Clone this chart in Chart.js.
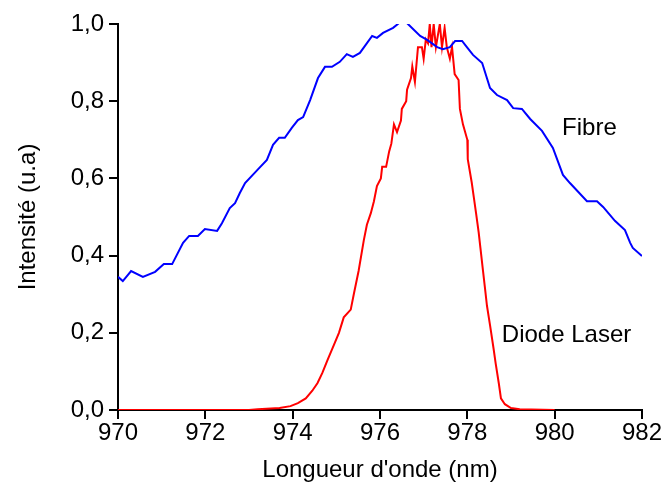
<!DOCTYPE html>
<html>
<head>
<meta charset="utf-8">
<script src="https://cdn.jsdelivr.net/npm/chart.js@4/dist/chart.umd.min.js"></script>
<style>
  html, body { margin: 0; padding: 0; background: #fff; }
  #wrap { width: 662px; height: 489px; }
</style>
</head>
<body>
<div id="wrap"><canvas id="spectre"></canvas></div>
<script>
// Fibre spectrum (blue)
const fibreX = [970.00, 970.11, 970.30, 970.57, 970.85, 971.05, 971.24, 971.49, 971.63, 971.83,
  971.99, 972.27, 972.38, 972.56, 972.68, 972.79, 972.91, 973.21, 973.41, 973.55,
  973.69, 973.82, 973.98, 974.12, 974.24, 974.40, 974.58, 974.74, 974.90, 975.08,
  975.24, 975.38, 975.54, 975.82, 975.93, 976.07, 976.30, 976.41, 976.53, 976.64,
  976.92, 977.08, 977.31, 977.44, 977.60, 977.72, 977.88, 977.99, 978.13, 978.34,
  978.52, 978.68, 978.91, 979.05, 979.25, 979.44, 979.71, 979.96, 980.19, 980.35,
  980.74, 980.97, 981.11, 981.38, 981.61, 981.73, 981.79, 982.00];
const fibreY = [0.345, 0.334, 0.360, 0.345, 0.358, 0.378, 0.378, 0.433, 0.451, 0.451,
  0.469, 0.464, 0.484, 0.523, 0.536, 0.562, 0.588, 0.624, 0.648, 0.687,
  0.705, 0.705, 0.731, 0.751, 0.759, 0.803, 0.860, 0.889, 0.889, 0.902,
  0.922, 0.915, 0.925, 0.969, 0.964, 0.977, 0.990, 1.000, 1.012, 1.000,
  0.969, 0.959, 0.940, 0.935, 0.940, 0.956, 0.956, 0.940, 0.920, 0.899,
  0.834, 0.816, 0.803, 0.782, 0.780, 0.754, 0.723, 0.679, 0.609, 0.588,
  0.541, 0.541, 0.526, 0.490, 0.466, 0.433, 0.420, 0.399];

// Diode laser spectrum (red)
const laserX = [970.00, 973.00, 973.20, 973.70, 973.95, 974.12, 974.30, 974.45, 974.57, 974.68,
  974.80, 974.95, 975.06, 975.17, 975.33, 975.40, 975.51, 975.63, 975.70, 975.79,
  975.86, 975.93, 976.02, 976.05, 976.14, 976.21, 976.26, 976.32, 976.39, 976.48,
  976.50, 976.60, 976.62, 976.71, 976.74, 976.80, 976.87, 976.96, 977.00, 977.05,
  977.10, 977.14, 977.18, 977.23, 977.28, 977.37, 977.42, 977.48, 977.53, 977.60,
  977.65, 977.71, 977.80, 977.83, 977.90, 978.00, 978.01, 978.10, 978.15, 978.20,
  978.26, 978.30, 978.36, 978.40, 978.45, 978.52, 978.60, 978.65, 978.72, 978.77,
  978.86, 979.00, 979.20, 980.00];
const laserY = [0.000, 0.000, 0.002, 0.005, 0.010, 0.018, 0.030, 0.050, 0.070, 0.096,
  0.130, 0.170, 0.200, 0.240, 0.260, 0.300, 0.360, 0.440, 0.480, 0.510,
  0.540, 0.580, 0.600, 0.630, 0.630, 0.670, 0.690, 0.740, 0.720, 0.750,
  0.780, 0.800, 0.830, 0.860, 0.890, 0.850, 0.940, 0.940, 0.910, 0.960,
  0.950, 1.000, 0.940, 1.000, 0.940, 1.000, 0.940, 0.990, 0.940, 0.910,
  0.940, 0.870, 0.855, 0.780, 0.740, 0.700, 0.650, 0.590, 0.550, 0.510,
  0.460, 0.420, 0.360, 0.320, 0.270, 0.220, 0.160, 0.120, 0.070, 0.030,
  0.015, 0.005, 0.002, 0.000];

const yTicks = [0, 0.2, 0.4, 0.6, 0.8, 1.0];
const xTicks = [970, 972, 974, 976, 978, 980, 982];

// text labels next to the curves
const notes = [
  { text: 'Fibre', x: 980.17, y: 0.73 },
  { text: 'Diode Laser', x: 978.79, y: 0.194 }
];

const FONT = 'Arial, "Liberation Sans", sans-serif';
const FS = 24;

const notesPlugin = {
  id: 'notes',
  afterDatasetsDraw(chart) {
    const ctx = chart.ctx;
    const xs = chart.scales.x, ys = chart.scales.y;
    ctx.save();
    ctx.fillStyle = '#000';
    ctx.font = FS + 'px ' + FONT;
    ctx.textBaseline = 'middle';
    ctx.textAlign = 'left';
    notes.forEach(n => ctx.fillText(n.text, xs.getPixelForValue(n.x), ys.getPixelForValue(n.y)));
    ctx.restore();
  }
};

const pts = (xa, ya) => xa.map((v, i) => ({ x: v, y: ya[i] }));

new Chart(document.getElementById('spectre'), {
  type: 'line',
  data: {
    datasets: [
      { label: 'Fibre', data: pts(fibreX, fibreY), borderColor: '#0000ff', borderWidth: 2,
        pointRadius: 0, tension: 0, fill: false },
      { label: 'Diode Laser', data: pts(laserX, laserY), borderColor: '#ff0000', borderWidth: 2,
        pointRadius: 0, tension: 0, fill: false }
    ]
  },
  options: {
    responsive: true,
    maintainAspectRatio: false,
    animation: false,
    layout: { padding: { top: 24, left: 0, right: 0, bottom: 4 } },
    plugins: { legend: { display: false }, tooltip: { enabled: false } },
    scales: {
      x: {
        type: 'linear', min: 970, max: 982,
        afterBuildTicks: s => { s.ticks = xTicks.map(v => ({ value: v })); },
        afterFit: s => { s.height = 75; },
        ticks: { color: '#000', font: { family: FONT, size: FS }, padding: 0, maxRotation: 0 },
        grid: { drawOnChartArea: false, drawTicks: true, tickLength: 9, color: '#000', lineWidth: 2 },
        border: { display: true, color: '#000', width: 2 },
        title: { display: true, text: "Longueur d'onde (nm)", color: '#000',
                 font: { family: FONT, size: FS }, padding: { top: 4, bottom: 0 } }
      },
      y: {
        min: 0, max: 1,
        afterBuildTicks: s => { s.ticks = yTicks.map(v => ({ value: v })); },
        afterFit: s => { s.width = 118; },
        ticks: { color: '#000', font: { family: FONT, size: FS }, padding: 5,
                 callback: v => v.toFixed(1).replace('.', ',') },
        grid: { drawOnChartArea: false, drawTicks: true, tickLength: 9, color: '#000', lineWidth: 2 },
        border: { display: true, color: '#000', width: 2 },
        title: { display: true, text: 'Intensité (u.a)', color: '#000',
                 font: { family: FONT, size: FS }, padding: { top: 14, bottom: 10 } }
      }
    }
  },
  plugins: [notesPlugin]
});
</script>
</body>
</html>
